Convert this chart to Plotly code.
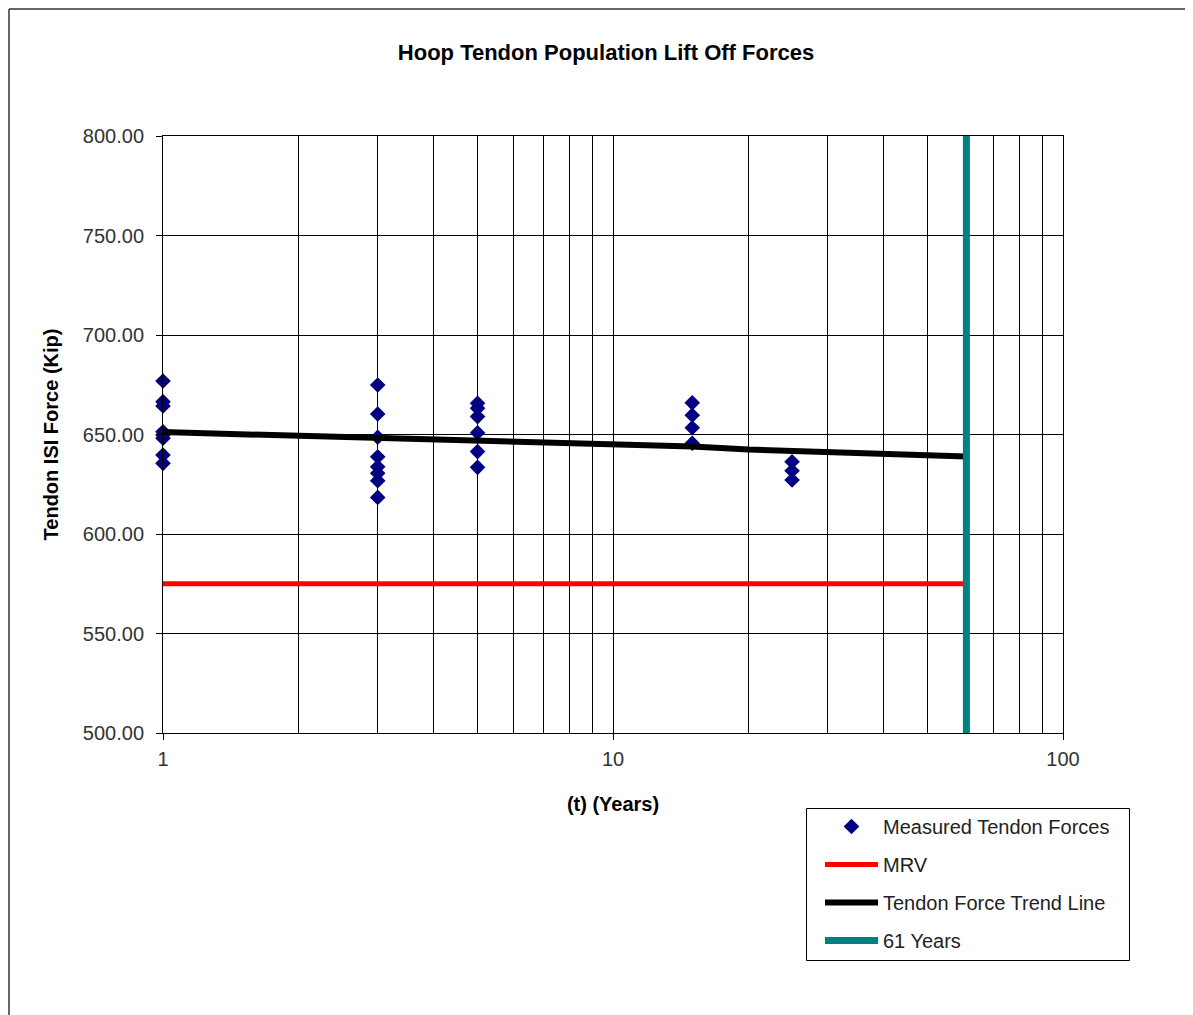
import plotly.graph_objects as go

# Measured tendon forces (years, kip)
meas_t = [1]*8 + [3]*8 + [5]*6 + [15]*4 + [25]*3
meas_f = [676.9, 666.5, 664.3, 651.4, 649.7, 648.1, 639.7, 635.5,
          674.9, 660.3, 648.6, 638.8, 633.8, 630.5, 626.8, 618.4,
          665.7, 663.2, 659.0, 650.9, 641.4, 633.5,
          665.9, 659.7, 653.4, 645.6,
          636.3, 631.8, 627.1]

# Trend line
trend_t = [1, 3, 5, 10, 15, 20, 30, 40, 50, 61]
trend_f = [651.2, 648.5, 647.2, 645.3, 644.0, 642.4, 641.0, 640.4, 639.8, 639.0]

# MRV
mrv_t = [1, 61]
mrv_f = [575, 575]

# 61 years line
yr61_t = [61, 61]
yr61_f = [500, 800]

font = "Liberation Sans, Arial, sans-serif"

fig = go.Figure()
fig.add_trace(go.Scatter(x=meas_t, y=meas_f, mode="markers", name="Measured Tendon Forces",
                         marker=dict(symbol="diamond", color="#000080", size=12),
                         cliponaxis=False, legendgroup="a"))
fig.add_trace(go.Scatter(x=mrv_t, y=mrv_f, mode="lines", name="MRV",
                         line=dict(color="#ff0000", width=5), legendgroup="b"))
fig.add_trace(go.Scatter(x=trend_t, y=trend_f, mode="lines", name="Tendon Force Trend Line",
                         line=dict(color="#000000", width=6), legendgroup="c"))
fig.add_trace(go.Scatter(x=yr61_t, y=yr61_f, mode="lines", name="61 Years",
                         line=dict(color="#008080", width=7), legendgroup="d"))

OFF = 8  # page body margin
W, H = 1193 - OFF, 1015 - OFF
L, T = 163 - OFF, 136 - OFF
pw, ph = 900, 597
R, B = W - L - pw, H - T - ph

def px(xp):
    return (xp - OFF - L) / pw

def py(yp):
    return (T + ph - (yp - OFF)) / ph

minor_vals = [2, 3, 4, 5, 6, 7, 8, 9, 20, 30, 40, 50, 60, 70, 80, 90]

fig.update_layout(
    width=W, height=H,
    margin=dict(l=L, r=R, t=T, b=B),
    paper_bgcolor="white", plot_bgcolor="white",
    font=dict(family=font, color="#222222"),
    title=dict(text="<b>Hoop Tendon Population Lift Off Forces</b>",
               x=(606 - OFF) / W, xanchor="center", y=1 - (52 - OFF) / H, yanchor="middle",
               font=dict(size=22, color="#000000")),
    xaxis=dict(type="log", range=[0, 2],
               tickvals=[1, 10, 100], ticktext=["1", "10", "100"],
               ticks="outside", ticklen=6, tickcolor="#000000",
               tickfont=dict(size=20, color="#333333"),
               ticklabelstandoff=2,
               showgrid=True, gridcolor="#000000", gridwidth=1,
               minor=dict(tickvals=minor_vals, showgrid=True, gridcolor="#000000",
                          gridwidth=1, ticks=""),
               showline=True, linecolor="#000000", linewidth=1, mirror=True,
               zeroline=False,
               title=dict(text="<b>(t) (Years)</b>", font=dict(size=20, color="#000000"),
                          standoff=27)),
    yaxis=dict(range=[500, 800], dtick=50, tickformat=".2f",
               ticks="outside", ticklen=6, tickcolor="#000000",
               tickfont=dict(size=20, color="#333333"),
               ticklabelstandoff=8,
               showgrid=True, gridcolor="#000000", gridwidth=1,
               showline=True, linecolor="#000000", linewidth=1, mirror=True,
               zeroline=False,
               title=dict(text="<b>Tendon ISI Force (Kip)</b>", font=dict(size=20, color="#000000"),
                          standoff=18)),
    legend=dict(x=px(820), y=py(807), xanchor="left", yanchor="top",
                borderwidth=0, bgcolor="rgba(0,0,0,0)",
                font=dict(size=20, color="#222222"),
                traceorder="grouped", tracegroupgap=9, itemwidth=53),
    showlegend=True,
    shapes=[
        dict(type="line", xref="paper", yref="paper",
             x0=px(9), x1=px(9), y0=py(9), y1=py(1100),
             line=dict(color="#333333", width=1.5)),
        dict(type="line", xref="paper", yref="paper",
             x0=px(9), x1=px(1300), y0=py(9), y1=py(9),
             line=dict(color="#333333", width=1.5)),
        dict(type="rect", xref="paper", yref="paper",
             x0=px(806.5), x1=px(1129.5), y0=py(808.5), y1=py(960.5),
             line=dict(color="#000000", width=1)),
    ],
)

fig.write_html("out.html")
